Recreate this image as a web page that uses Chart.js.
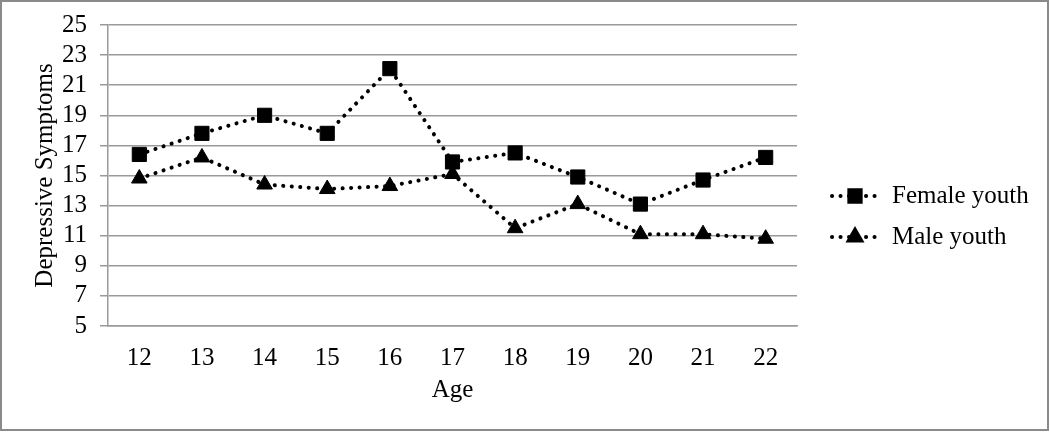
<!DOCTYPE html>
<html>
<head>
<meta charset="utf-8">
<script src="https://cdn.jsdelivr.net/npm/chart.js@4/dist/chart.umd.min.js"></script>
<style>
  html, body { margin: 0; padding: 0; background: #fff; }
  #wrap { width: 1050px; height: 432px; position: relative; }
</style>
</head>
<body>
<div id="wrap"><canvas id="ch"></canvas></div>
<script>
// ── data ──────────────────────────────────────────────────────────────────────
const ages        = ['12','13','14','15','16','17','18','19','20','21','22'];
const femaleYouth = [16.4, 17.8, 19.0, 17.8, 22.1, 15.9, 16.5, 14.9, 13.1, 14.7, 16.2];
const maleYouth   = [14.8, 16.2, 14.4, 14.1, 14.3, 15.1, 11.5, 13.1, 11.1, 11.1, 10.8];
const seriesNames = ['Female youth', 'Male youth'];

const FONT      = "'Liberation Serif', 'Times New Roman', serif";
const FSIZE     = 25;
const gridColor = '#9a9a9a';

const dotted = { borderColor:'#000', borderWidth:4, borderDash:[0.1, 8.4], borderCapStyle:'round',
                 backgroundColor:'#000', pointBackgroundColor:'#000', pointBorderColor:'#000',
                 pointBorderWidth:1, tension:0, fill:false };

// legend + frame drawn by hand (Excel style: dotted sample with marker in the middle)
const sideLegend = {
  id: 'sideLegend',
  afterDraw(chart) {
    const ctx = chart.ctx;
    ctx.save();
    ctx.strokeStyle = '#8a8a8a';
    ctx.lineWidth = 2;
    ctx.strokeRect(1, 1, 1047, 429);

    chart.data.datasets.forEach((ds, i) => {
      const y = 196 + i * 41;
      ctx.strokeStyle = '#000';
      ctx.lineWidth = 4;
      ctx.lineCap = 'round';
      ctx.setLineDash([0.1, 8.4]);
      ctx.beginPath(); ctx.moveTo(832, y); ctx.lineTo(878, y); ctx.stroke();
      ctx.setLineDash([]);
      ctx.fillStyle = '#000';
      Chart.helpers.drawPoint(ctx, { pointStyle: ds.pointStyle, radius: ds.pointStyle === 'rect' ? 8 : 7, rotation: 0, borderWidth: 1 }, 855, y);
      ctx.fill();
      ctx.font = FSIZE + 'px ' + FONT;
      ctx.textAlign = 'left';
      ctx.textBaseline = 'middle';
      ctx.fillText(ds.label, 892, y);
    });
    ctx.restore();
  }
};

new Chart(document.getElementById('ch'), {
  type: 'line',
  data: {
    labels: ages,
    datasets: [
      { ...dotted, label: seriesNames[0], data: femaleYouth, pointStyle:'rect',     pointRadius:10, pointHoverRadius:10 },
      { ...dotted, label: seriesNames[1], data: maleYouth,   pointStyle:'triangle', pointRadius:9,  pointHoverRadius:9 },
    ]
  },
  options: {
    responsive: true,
    maintainAspectRatio: false,
    animation: false,
    layout: { padding: { top: 25, right: 253, left: 0, bottom: 0 } },
    plugins: { legend: { display: false }, tooltip: { enabled: false } },
    scales: {
      x: {
        offset: true,
        grid: { display: true, drawOnChartArea: false, drawTicks: false },
        border: { display: true, color: gridColor, width: 1.5 },
        ticks: { color: '#000', font: { family: FONT, size: FSIZE }, padding: 17, maxRotation: 0, autoSkip: false },
        title: { display: true, text: 'Age', color: '#000', font: { family: FONT, size: FSIZE }, padding: { top: 27, bottom: 27 } },
        afterFit: s => { s.height = 106; }
      },
      y: {
        min: 5, max: 25,
        ticks: { stepSize: 2, color: '#000', font: { family: FONT, size: FSIZE }, padding: 13, autoSkip: false },
        grid: { color: gridColor, lineWidth: 1.5, tickLength: 8 },
        border: { display: true, color: gridColor, width: 1.5 },
        title: { display: true, text: 'Depressive Symptoms', color: '#000', font: { family: FONT, size: FSIZE }, padding: { top: 30, bottom: 0 } },
        afterFit: s => { s.width = 108; s.paddingTop = 0; s.paddingBottom = 0; }
      }
    }
  },
  plugins: [sideLegend]
});
</script>
</body>
</html>
